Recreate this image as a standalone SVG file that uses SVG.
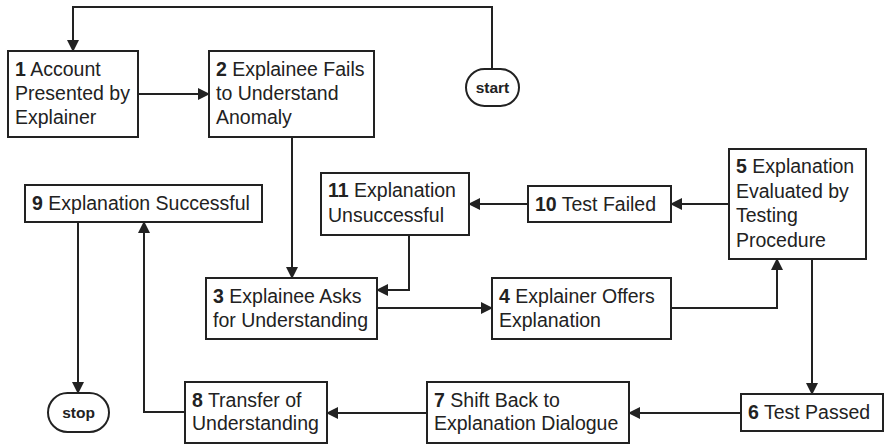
<svg xmlns="http://www.w3.org/2000/svg" width="885" height="445" viewBox="0 0 885 445">
  <style>
    .box { fill: #ffffff; stroke: #222222; stroke-width: 2; }
    .term { fill: #ffffff; stroke: #222222; stroke-width: 2; }
    .lbl { font-family: "Liberation Sans", Arial, sans-serif; font-size: 19.5px; fill: #222222; }
    .num { font-weight: bold; }
    .tlbl { font-family: "Liberation Sans", Arial, sans-serif; font-size: 15.5px; font-weight: bold; fill: #222222; text-anchor: middle; }
    .conn { fill: none; stroke: #222222; stroke-width: 2; }
  </style>
  <defs>
    <marker id="arrow" markerUnits="userSpaceOnUse" markerWidth="12" markerHeight="12" refX="11" refY="6" orient="auto">
      <path d="M0,0 L12,6 L0,12 z" fill="#222222"/>
    </marker>
  </defs>
  <rect width="885" height="445" fill="#ffffff"/>

  <g id="connectors">
    <path class="conn" d="M492,69 V7 H73 V51" marker-end="url(#arrow)"/>
    <path class="conn" d="M138,94 H209" marker-end="url(#arrow)"/>
    <path class="conn" d="M292,137 V278" marker-end="url(#arrow)"/>
    <path class="conn" d="M409,235 V290 H377" marker-end="url(#arrow)"/>
    <path class="conn" d="M377,308 H492" marker-end="url(#arrow)"/>
    <path class="conn" d="M671,308 H777 V259" marker-end="url(#arrow)"/>
    <path class="conn" d="M729,204 H671" marker-end="url(#arrow)"/>
    <path class="conn" d="M528,204 H469" marker-end="url(#arrow)"/>
    <path class="conn" d="M812,259 V394" marker-end="url(#arrow)"/>
    <path class="conn" d="M741,413 H629" marker-end="url(#arrow)"/>
    <path class="conn" d="M427,413 H327" marker-end="url(#arrow)"/>
    <path class="conn" d="M185,412 H144 V222" marker-end="url(#arrow)"/>
    <path class="conn" d="M78,222 V393" marker-end="url(#arrow)"/>
  </g>

  <g id="start">
    <rect class="term" x="466" y="69" width="53" height="37" rx="18.5" ry="18.5"/>
    <text class="tlbl" x="492.5" y="93">start</text>
  </g>

  <g id="n1">
    <rect class="box" x="8" y="51" width="130" height="86"/>
    <text class="lbl" x="15" y="76"><tspan class="num">1</tspan> Account</text>
    <text class="lbl" x="15" y="100">Presented by</text>
    <text class="lbl" x="15" y="124">Explainer</text>
  </g>

  <g id="n2">
    <rect class="box" x="209" y="51" width="165" height="86"/>
    <text class="lbl" x="216" y="76"><tspan class="num">2</tspan> Explainee Fails</text>
    <text class="lbl" x="216" y="100">to Understand</text>
    <text class="lbl" x="216" y="124">Anomaly</text>
  </g>

  <g id="n3">
    <rect class="box" x="206" y="278" width="171" height="61"/>
    <text class="lbl" x="213" y="303"><tspan class="num">3</tspan> Explainee Asks</text>
    <text class="lbl" x="213" y="327">for Understanding</text>
  </g>

  <g id="n4">
    <rect class="box" x="492" y="278" width="179" height="61"/>
    <text class="lbl" x="499" y="303"><tspan class="num">4</tspan> Explainer Offers</text>
    <text class="lbl" x="499" y="327">Explanation</text>
  </g>

  <g id="n5">
    <rect class="box" x="729" y="149" width="137" height="110"/>
    <text class="lbl" x="736" y="173"><tspan class="num">5</tspan> Explanation</text>
    <text class="lbl" x="736" y="197.5">Evaluated by</text>
    <text class="lbl" x="736" y="222">Testing</text>
    <text class="lbl" x="736" y="246.5">Procedure</text>
  </g>

  <g id="n6">
    <rect class="box" x="741" y="394" width="142" height="37"/>
    <text class="lbl" x="748" y="419"><tspan class="num">6</tspan> Test Passed</text>
  </g>

  <g id="n7">
    <rect class="box" x="427" y="382" width="202" height="61"/>
    <text class="lbl" x="434" y="407"><tspan class="num">7</tspan> Shift Back to</text>
    <text class="lbl" x="434" y="430">Explanation Dialogue</text>
  </g>

  <g id="n8">
    <rect class="box" x="185" y="382" width="142" height="61"/>
    <text class="lbl" x="192" y="407"><tspan class="num">8</tspan> Transfer of</text>
    <text class="lbl" x="192" y="430">Understanding</text>
  </g>

  <g id="n9">
    <rect class="box" x="25" y="185" width="237" height="37"/>
    <text class="lbl" x="32" y="210"><tspan class="num">9</tspan> Explanation Successful</text>
  </g>

  <g id="n10">
    <rect class="box" x="528" y="186" width="143" height="36"/>
    <text class="lbl" x="535" y="211"><tspan class="num">10</tspan> Test Failed</text>
  </g>

  <g id="n11">
    <rect class="box" x="321" y="173" width="148" height="62"/>
    <text class="lbl" x="328" y="197"><tspan class="num">11</tspan> Explanation</text>
    <text class="lbl" x="328" y="222">Unsuccessful</text>
  </g>

  <g id="stop">
    <rect class="term" x="48" y="393" width="61" height="39" rx="19.5" ry="19.5"/>
    <text class="tlbl" x="78.5" y="418">stop</text>
  </g>
</svg>
